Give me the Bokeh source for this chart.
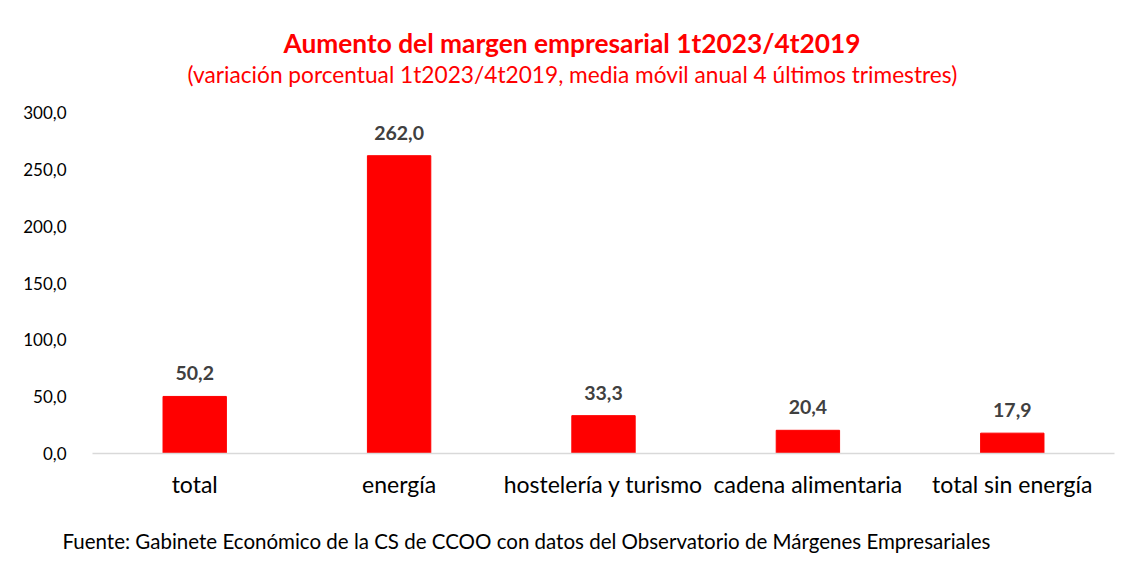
from bokeh.plotting import figure
from bokeh.models import ColumnDataSource, LabelSet, Range1d, FactorRange, FixedTicker, Title
from bokeh.core.properties import value
from bokeh.embed import file_html
from bokeh.resources import INLINE

categories = ["total", "energía", "hostelería y turismo", "cadena alimentaria", "total sin energía"]
values = [50.2, 262.0, 33.3, 20.4, 17.9]
value_labels = ["50,2", "262,0", "33,3", "20,4", "17,9"]
y_ticks = [0, 50, 100, 150, 200, 250, 300]
y_tick_labels = ["0,0", "50,0", "100,0", "150,0", "200,0", "250,0", "300,0"]
title = "Aumento del margen empresarial 1t2023/4t2019"
subtitle = "(variación porcentual 1t2023/4t2019, media móvil anual 4 últimos trimestres)"
footer = "Fuente: Gabinete Económico de la CS de CCOO con datos del Observatorio de Márgenes Empresariales"

FONT = "Lato"

src = ColumnDataSource(dict(cat=categories, val=values, lab=value_labels))

p = figure(width=1121, height=561, x_range=FactorRange(*categories, range_padding=0),
           y_range=Range1d(0, 300), output_backend="svg", toolbar_location=None,
           min_border_left=92, min_border_right=7, min_border_top=112, min_border_bottom=108)
p.outline_line_color = None
p.xgrid.visible = False
p.ygrid.visible = False
p.background_fill_color = "white"
p.border_fill_color = "white"

p.vbar(x="cat", top="val", width=0.31, source=src, fill_color="#ff0000", line_color="#ff0000")

p.yaxis.ticker = FixedTicker(ticks=y_ticks)
p.yaxis.major_label_overrides = {t: l for t, l in zip(y_ticks, y_tick_labels)}
p.yaxis.axis_line_color = None
p.yaxis.major_tick_line_color = None
p.yaxis.minor_tick_line_color = None
p.yaxis.major_label_text_font = FONT
p.yaxis.major_label_text_font_size = "17px"
p.yaxis.major_label_text_color = "#000000"
p.yaxis.major_label_standoff = 20

p.xaxis.axis_line_color = "#d9d9d9"
p.xaxis.axis_line_width = 1.5
p.xaxis.major_tick_line_color = None
p.xaxis.minor_tick_line_color = None
p.xaxis.major_label_text_font = FONT
p.xaxis.major_label_text_font_size = "23px"
p.xaxis.major_label_text_color = "#000000"
p.xaxis.major_label_standoff = 10
p.xaxis.axis_label = " "
p.xaxis.axis_label_text_font_size = "1px"
p.xaxis.axis_label_standoff = 22

labels = LabelSet(x="cat", y="val", text="lab", source=src, text_align="center",
                  text_baseline="middle", y_offset=23, text_font=value(FONT),
                  text_font_size=value("19.5px"), text_font_style=value("bold"),
                  text_color=value("#404040"))
p.add_layout(labels)

# spacer between frame and subtitle
p.add_layout(Title(text=" ", text_font_size="1px", standoff=22), "above")
p.add_layout(Title(text=subtitle, align="left", offset=95, text_font=FONT,
                   text_font_size="22.7px", text_font_style="normal", text_color="#ff0000",
                   standoff=0), "above")
p.add_layout(Title(text=title, align="left", offset=191, text_font=FONT,
                   text_font_size="26.3px", text_font_style="bold", text_color="#ff0000",
                   standoff=0), "above")
p.add_layout(Title(text=footer, align="left", offset=-30, text_font=FONT,
                   text_font_size="20.5px", text_font_style="normal", text_color="#000000",
                   standoff=0), "below")

open("out.html", "w").write(file_html(p, INLINE))
